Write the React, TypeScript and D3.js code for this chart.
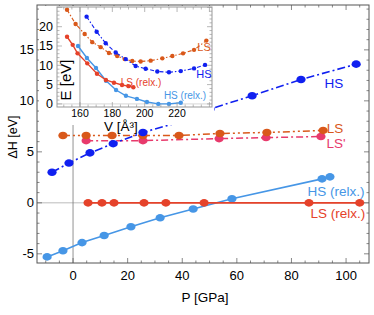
import React, { useEffect, useRef } from 'react';
import * as d3 from 'd3';

// main panel: enthalpy difference vs pressure
const hsP = [-7.7, -1.5, 6.2, 14.7, 25.6, 40, 50.2, 65.6, 83.5, 103.7];
const hsH = [3.0, 3.9, 4.9, 5.8, 6.9, 8.0, 9.2, 10.5, 12.1, 13.6];
const lsP = [-3.7, 4.8, 14.3, 25.6, 38.8, 53.8, 71, 91.6];
const lsH = [6.6, 6.6, 6.6, 6.6, 6.6, 6.8, 6.9, 7.1];
const lspP = [4.8, 25.6, 53.5, 70.7, 90.8];
const lspH = [6.1, 6.1, 6.3, 6.4, 6.5];
const lsRelP = [5.5, 10.6, 15, 26, 34, 48, 86.4, 105];
const lsRelH = [0, 0, 0, 0, 0, 0, 0, 0];
const hsRelP = [-9.5, -3.7, 3.3, 11.4, 21.2, 31.9, 44, 58.2, 91.2, 94.1];
const hsRelH = [-5.3, -4.7, -3.9, -3.2, -2.35, -1.47, -0.6, 0.4, 2.35, 2.55];

// inset: energy vs volume
const inLsV = [152, 157.3, 162.9, 167.6, 172.8, 177.9, 183, 187.6, 192.3, 197.5, 203.7, 210.9, 217.1, 223.7, 230.5, 238.1];
const inLsE = [24.4, 20.7, 18.1, 16.0, 14.7, 13.2, 12.4, 11.6, 11.1, 11.0, 11.2, 11.8, 12.4, 13.1, 14.0, 16.4];
const inHsV = [164.1, 170.3, 175.9, 182.1, 188.3, 194.4, 200.6, 207.8, 215, 222.3, 230.5, 237.3];
const inHsE = [22.6, 18.7, 15.7, 13.3, 11.6, 9.8, 9.1, 8.4, 8.2, 8.5, 9.2, 10.1];
const inLsRelV = [152, 155.5, 158.5, 164.5, 170.5, 176, 181, 186, 190, 193];
const inLsRelE = [17.4, 15.3, 13.1, 10.5, 7.8, 6.2, 5.5, 4.9, 4.6, 4.3];
const inHsRelV = [158.8, 164.3, 169.9, 176.1, 182.3, 188.4, 195.2, 201.4, 208.4, 215, 222.3];
const inHsRelE = [15.0, 11.9, 9.3, 6.0, 3.6, 2.1, 1.3, 0.5, 0.0, 0.0, 0.3];

const pTicks = [0, 20, 40, 60, 80, 100];
const hTicks = [-5, 0, 5, 10, 15];
const vTicks = [160, 180, 200, 220];
const eTicks = [0, 5, 10, 15, 20];

const C_HS = '#1020f0';
const C_LS = '#d9581a';
const C_LSP = '#e83a6c';
const C_LSREL = '#e5422a';
const C_HSREL = '#4696e6';
const FONT = 'Liberation Sans, Arial, sans-serif';

type Pt = [number, number];
const zip = (a: number[], b: number[]): Pt[] => a.map((v, i) => [v, b[i]]);

const App: React.FC = () => {
  const svgRef = useRef<SVGSVGElement | null>(null);

  useEffect(() => {
    const svg = d3.select(svgRef.current);
    svg.selectAll('*').remove();

    const x = d3.scaleLinear().domain([-13.2, 108.4]).range([37, 369]);
    const y = d3.scaleLinear().domain([-5.9, 19.4]).range([263, 5]);

    const frame = (
      g: d3.Selection<SVGGElement, unknown, null, undefined>,
      sx: d3.ScaleLinear<number, number>,
      sy: d3.ScaleLinear<number, number>,
      xMinor: number, yMinor: number, xMajor: number, yMajor: number,
      color: string
    ) => {
      const [x0, x1] = sx.range();
      const [y0, y1] = sy.range();
      const [dx0, dx1] = sx.domain();
      const [dy0, dy1] = sy.domain();
      const xs = d3.range(Math.ceil(dx0 / xMinor) * xMinor, dx1, xMinor);
      const ys = d3.range(Math.ceil(dy0 / yMinor) * yMinor, dy1, yMinor);
      xs.forEach(v => {
        const major = Math.abs(v / xMajor - Math.round(v / xMajor)) < 1e-6;
        const len = major ? 5 : 2.5;
        g.append('line').attr('x1', sx(v)).attr('x2', sx(v)).attr('y1', y0).attr('y2', y0 - len).attr('stroke', color).attr('stroke-width', 0.7);
        g.append('line').attr('x1', sx(v)).attr('x2', sx(v)).attr('y1', y1).attr('y2', y1 + len).attr('stroke', color).attr('stroke-width', 0.7);
      });
      ys.forEach(v => {
        const major = Math.abs(v / yMajor - Math.round(v / yMajor)) < 1e-6;
        const len = major ? 5 : 2.5;
        g.append('line').attr('y1', sy(v)).attr('y2', sy(v)).attr('x1', x0).attr('x2', x0 + len).attr('stroke', color).attr('stroke-width', 0.7);
        g.append('line').attr('y1', sy(v)).attr('y2', sy(v)).attr('x1', x1).attr('x2', x1 - len).attr('stroke', color).attr('stroke-width', 0.7);
      });
      g.append('rect').attr('x', x0).attr('y', y1).attr('width', x1 - x0).attr('height', y0 - y1)
        .attr('fill', 'none').attr('stroke', color).attr('stroke-width', 1);
    };

    const series = (
      g: d3.Selection<SVGGElement, unknown, null, undefined>,
      sx: d3.ScaleLinear<number, number>,
      sy: d3.ScaleLinear<number, number>,
      pts: Pt[], color: string, dash: string | null, rx: number, ry: number, w: number
    ) => {
      const line = d3.line<Pt>().x(d => sx(d[0])).y(d => sy(d[1]));
      g.append('path').datum(pts).attr('d', line).attr('fill', 'none')
        .attr('stroke', color).attr('stroke-width', w)
        .attr('stroke-dasharray', dash);
      g.selectAll(null).data(pts).enter().append('ellipse')
        .attr('cx', d => sx(d[0])).attr('cy', d => sy(d[1]))
        .attr('rx', rx).attr('ry', ry).attr('fill', color);
    };

    // main reference lines
    const main = svg.append('g');
    main.append('line').attr('x1', x.range()[0]).attr('x2', x.range()[1]).attr('y1', y(0)).attr('y2', y(0))
      .attr('stroke', '#bbb').attr('stroke-width', 1);
    main.append('line').attr('x1', x(0)).attr('x2', x(0)).attr('y1', y.range()[0]).attr('y2', y.range()[1])
      .attr('stroke', '#777').attr('stroke-width', 0.8);

    series(main, x, y, zip(hsRelP, hsRelH), C_HSREL, null, 4.6, 3.8, 1.6);
    series(main, x, y, zip(lsRelP, lsRelH), C_LSREL, null, 4.6, 3.8, 1.8);
    series(main, x, y, zip(lspP, lspH), C_LSP, '7,3,2,3', 4.6, 3.8, 1.5);
    series(main, x, y, zip(lsP, lsH), C_LS, '7,3,2,3,2,3', 4.6, 3.8, 1.5);
    series(main, x, y, zip(hsP, hsH), C_HS, '8,3,2,3', 4.6, 3.8, 1.6);

    frame(main, x, y, 5, 1, 20, 5, '#555');

    // main tick labels
    pTicks.forEach(v => {
      main.append('text').attr('x', x(v)).attr('y', 280).attr('text-anchor', 'middle')
        .attr('font-family', FONT).attr('font-size', 13).text(v);
    });
    hTicks.forEach(v => {
      main.append('text').attr('x', 34).attr('y', y(v) + 4.5).attr('text-anchor', 'end')
        .attr('font-family', FONT).attr('font-size', 13).text(v);
    });
    main.append('text').attr('x', 205).attr('y', 302).attr('text-anchor', 'middle')
      .attr('font-family', FONT).attr('font-size', 13.5).text('P [GPa]');
    main.append('text').attr('transform', 'translate(17,137) rotate(-90)').attr('text-anchor', 'middle')
      .attr('font-family', FONT).attr('font-size', 12.5).text('ΔH [eV]');

    const label = (tx: number, ty: number, t: string, c: string, size = 13.5) => {
      svg.append('text').attr('x', tx).attr('y', ty).attr('text-anchor', 'middle')
        .attr('font-family', FONT).attr('font-size', size).attr('fill', c).text(t);
    };
    label(334, 88, 'HS', C_HS);
    label(335, 133, 'LS', C_LS);
    label(336, 148, "LS'", C_LSP);
    label(336, 196, 'HS (relx.)', C_HSREL);
    label(338, 218, 'LS (relx.)', C_LSREL);

    // inset
    const ix = d3.scaleLinear().domain([145.8, 241.6]).range([57, 212]);
    const iy = d3.scaleLinear().domain([-0.8, 25.1]).range([107, 7]);
    const inset = svg.append('g');
    inset.append('rect').attr('x', 39).attr('y', 6).attr('width', 175).attr('height', 119).attr('fill', '#fff');
    inset.append('line').attr('x1', ix.range()[0]).attr('x2', ix.range()[1]).attr('y1', iy(0)).attr('y2', iy(0))
      .attr('stroke', '#ccc').attr('stroke-width', 0.8);
    inset.append('line').attr('x1', ix(160)).attr('x2', ix(160)).attr('y1', iy.range()[0]).attr('y2', iy.range()[1])
      .attr('stroke', '#888').attr('stroke-width', 0.8);

    series(inset, ix, iy, zip(inHsRelV, inHsRelE), C_HSREL, null, 2.2, 2.2, 1.4);
    series(inset, ix, iy, zip(inLsRelV, inLsRelE), C_LSREL, null, 2.2, 2.2, 1.4);
    series(inset, ix, iy, zip(inLsV, inLsE), C_LS, '4,2,1.5,2', 2.2, 2.2, 1.1);
    series(inset, ix, iy, zip(inHsV, inHsE), C_HS, '4,2,1.5,2', 2.2, 2.2, 1.1);

    frame(inset, ix, iy, 5, 1, 20, 5, '#999');

    vTicks.forEach(v => {
      inset.append('text').attr('x', ix(v)).attr('y', 117).attr('text-anchor', 'middle')
        .attr('font-family', FONT).attr('font-size', 10.5).text(v);
    });
    eTicks.forEach(v => {
      inset.append('text').attr('x', 53).attr('y', iy(v) + 4.5).attr('text-anchor', 'end')
        .attr('font-family', FONT).attr('font-size', 12.5).text(v);
    });
    inset.append('text').attr('x', 121).attr('y', 131).attr('text-anchor', 'middle')
      .attr('font-family', FONT).attr('font-size', 13.5).text('V [Å³]');
    inset.append('text').attr('transform', 'translate(71,80) rotate(-90)').attr('text-anchor', 'middle')
      .attr('font-family', FONT).attr('font-size', 15).text('E [eV]');

    label(204, 51, 'LS', C_LS, 11);
    label(204, 78, 'HS', C_HS, 11);
    label(141, 86, 'LS (relx.)', C_LSREL, 10);
    label(185, 99, 'HS (relx.)', C_HSREL, 10);
  }, []);

  return (
    <svg ref={svgRef} width={374} height={315}
      style={{ position: 'absolute', left: 0, top: 0, background: '#fff' }} />
  );
};

export default App;
